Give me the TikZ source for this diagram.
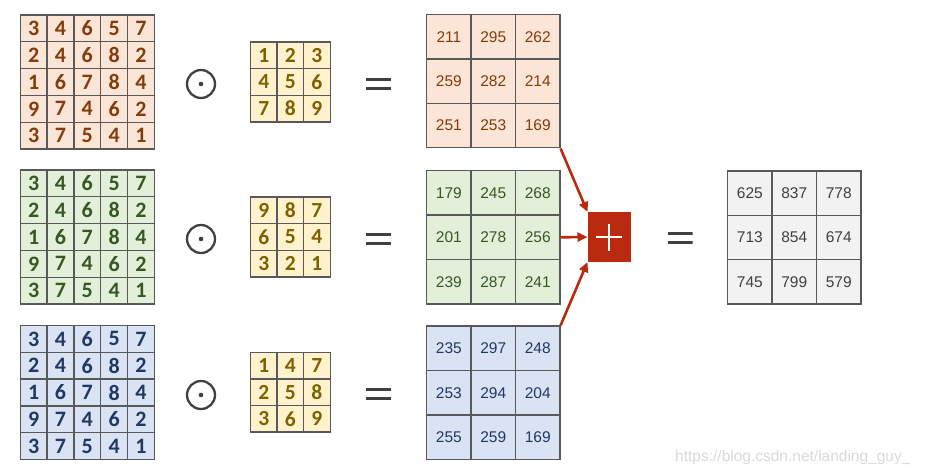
\documentclass[tikz,border=0pt]{standalone}
\usepackage{fontspec}
\setmainfont{Liberation Sans}
\newfontfamily\digitfont{Carlito}
\usetikzlibrary{matrix,arrows.meta}

\definecolor{peachfill}{HTML}{FBE5D6}
\definecolor{peachtext}{HTML}{843C0C}
\definecolor{greenfill}{HTML}{E2F0D9}
\definecolor{greentext}{HTML}{385723}
\definecolor{bluefill}{HTML}{DAE3F3}
\definecolor{bluetext}{HTML}{203864}
\definecolor{kernfill}{HTML}{FFF2CC}
\definecolor{kerntext}{HTML}{7F6000}
\definecolor{sumfill}{HTML}{F2F2F2}
\definecolor{sumtext}{HTML}{404040}
\definecolor{gridline}{HTML}{595959}
\definecolor{symgray}{HTML}{404040}
\definecolor{plusred}{HTML}{BA2A0F}

\begin{document}
\begin{tikzpicture}[x=1pt, y=-1pt,
  cellgrid/.style={matrix of nodes, inner sep=0pt, outer sep=0pt, column sep=-1.3pt, row sep=-1.3pt,
    nodes={draw=gridline, line width=1.3pt, anchor=center, inner sep=0pt, outer sep=0pt}},
  inputmat/.style={cellgrid, nodes={minimum size=26.8pt, font=\digitfont\bfseries\fontsize{22}{22}\selectfont}},
  kernelmat/.style={cellgrid, nodes={minimum size=26.6pt, fill=kernfill, text=kerntext,
    font=\digitfont\bfseries\fontsize{21.5}{22}\selectfont}},
  resultmat/.style={cellgrid, nodes={minimum size=44.4pt, font=\fontsize{15.5}{16}\selectfont}},
  odotsym/.style={circle, draw=symgray, line width=2.3pt, minimum size=28pt, inner sep=0pt,
    path picture={\fill[symgray] (path picture bounding box.center) circle (2.3pt);}},
  eqsym/.style={minimum width=25pt, minimum height=12pt, inner sep=0pt,
    path picture={\draw[symgray, line width=3pt]
      ([yshift=4.35pt]path picture bounding box.west) -- ([yshift=4.35pt]path picture bounding box.east)
      ([yshift=-4.35pt]path picture bounding box.west) -- ([yshift=-4.35pt]path picture bounding box.east);}},
  plusbox/.style={fill=plusred, minimum width=43pt, minimum height=50pt, inner sep=0pt, outer sep=0pt,
    path picture={\draw[white, line width=2.6pt]
      ([xshift=-13pt]path picture bounding box.center) -- ([xshift=13pt]path picture bounding box.center)
      ([yshift=-13.5pt]path picture bounding box.center) -- ([yshift=13.5pt]path picture bounding box.center);}},
  sumarrow/.style={plusred, line width=2.6pt, -{Triangle[length=10pt,width=9pt]}}
]
  \useasboundingbox (0,0) rectangle (926,475);

  \matrix (inA) [inputmat, nodes={fill=peachfill, text=peachtext}] at (87.3,82) {
    3 & 4 & 6 & 5 & 7 \\
    2 & 4 & 6 & 8 & 2 \\
    1 & 6 & 7 & 8 & 4 \\
    9 & 7 & 4 & 6 & 2 \\
    3 & 7 & 5 & 4 & 1 \\
  };
  \matrix (inB) [inputmat, nodes={fill=greenfill, text=greentext}] at (87.3,237) {
    3 & 4 & 6 & 5 & 7 \\
    2 & 4 & 6 & 8 & 2 \\
    1 & 6 & 7 & 8 & 4 \\
    9 & 7 & 4 & 6 & 2 \\
    3 & 7 & 5 & 4 & 1 \\
  };
  \matrix (inC) [inputmat, nodes={fill=bluefill, text=bluetext}] at (87.3,392.5) {
    3 & 4 & 6 & 5 & 7 \\
    2 & 4 & 6 & 8 & 2 \\
    1 & 6 & 7 & 8 & 4 \\
    9 & 7 & 4 & 6 & 2 \\
    3 & 7 & 5 & 4 & 1 \\
  };

  \node[odotsym] (dotA) at (201,84) {};
  \node[odotsym] (dotB) at (201,239) {};
  \node[odotsym] (dotC) at (201,395) {};

  \matrix (kerA) [kernelmat] at (290.3,82) {
    1 & 2 & 3 \\
    4 & 5 & 6 \\
    7 & 8 & 9 \\
  };
  \matrix (kerB) [kernelmat] at (290.3,237) {
    9 & 8 & 7 \\
    6 & 5 & 4 \\
    3 & 2 & 1 \\
  };
  \matrix (kerC) [kernelmat] at (290.3,392.2) {
    1 & 4 & 7 \\
    2 & 5 & 8 \\
    3 & 6 & 9 \\
  };

  \node[eqsym] (eqA) at (378.5,83.7) {};
  \node[eqsym] (eqB) at (378.5,238.7) {};
  \node[eqsym] (eqC) at (378.5,394) {};

  \matrix (resA) [resultmat, nodes={fill=peachfill, text=peachtext}] at (493.3,81.2) {
    211 & 295 & 262 \\
    259 & 282 & 214 \\
    251 & 253 & 169 \\
  };
  \matrix (resB) [resultmat, nodes={fill=greenfill, text=greentext}] at (493.3,237.3) {
    179 & 245 & 268 \\
    201 & 278 & 256 \\
    239 & 287 & 241 \\
  };
  \matrix (resC) [resultmat, nodes={fill=bluefill, text=bluetext}] at (493.3,392.7) {
    235 & 297 & 248 \\
    253 & 294 & 204 \\
    255 & 259 & 169 \\
  };

  \node[plusbox] (plusop) at (609,237) {};
  \draw[sumarrow] (resA.south east) -- (plusop.north west);
  \draw[sumarrow] (resB.east) -- (plusop.west);
  \draw[sumarrow] (resC.north east) -- (plusop.south west);

  \node[eqsym] (eqSum) at (680,238) {};

  \matrix (total) [resultmat, nodes={fill=sumfill, text=sumtext}] at (794.3,237.5) {
    625 & 837 & 778 \\
    713 & 854 & 674 \\
    745 & 799 & 579 \\
  };

  \node[anchor=east, text=gray!30, font=\fontsize{15.5}{16}\selectfont] (mark) at (914,457)
    {https://blog.csdn.net/landing\_guy\_};
\end{tikzpicture}
\end{document}
